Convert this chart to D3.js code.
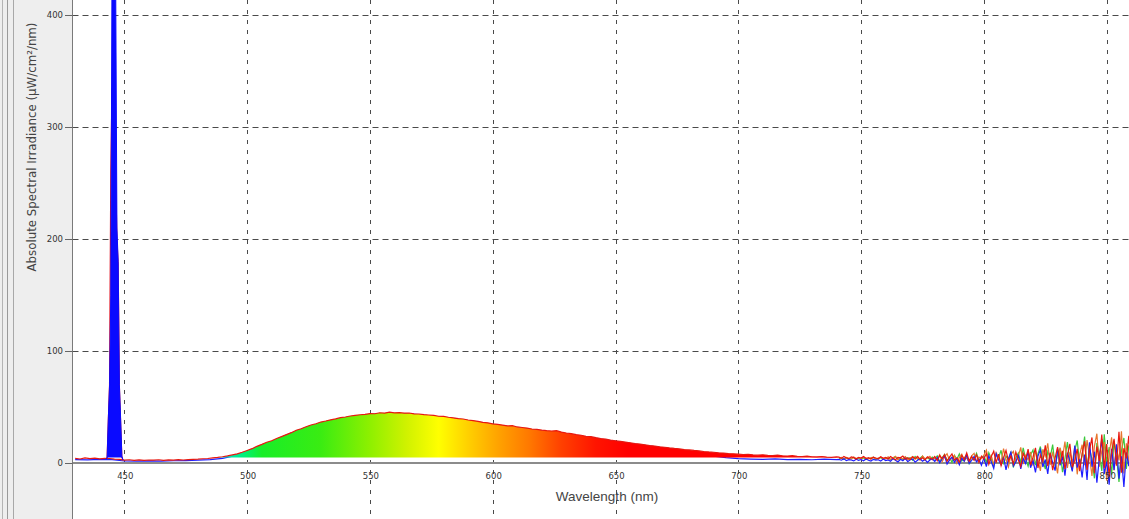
<!DOCTYPE html>
<html>
<head>
<meta charset="utf-8">
<script src="https://cdn.jsdelivr.net/npm/d3@7"></script>
<style>
  html, body { margin: 0; padding: 0; background: #fff; overflow: hidden; }
  svg { display: block; }
  .tick-label { font-family: "DejaVu Sans", sans-serif; font-size: 8.5px; fill: #333; }
  .axis-title { font-family: "DejaVu Sans", sans-serif; font-size: 11.8px; fill: #444; }
  .x-title { font-family: "Liberation Sans", Arial, sans-serif; font-size: 13.5px; fill: #444; }
</style>
</head>
<body>
<script>
// spectrum scan values (uW/cm2/nm)

var xTicks = [450, 500, 550, 600, 650, 700, 750, 800, 850];
var yTicks = [0, 100, 200, 300, 400];

// red scan, 430..740 nm every 2 nm
var spectrumWl = d3.range(430, 741, 2);
var redMain = [
  4.2, 3.6, 4.5, 3.9, 4.3,
  3.7, 4.1, 4.0, 3.5, 3.2,
  2.6, 2.9, 2.4, 2.8, 2.3,
  2.7, 2.5, 2.9, 2.4, 2.8,
  2.6, 3.0, 2.7, 3.1, 3.3,
  3.4, 3.8, 4.0, 4.5, 5.0,
  5.6, 6.3, 7.2, 8.2, 9.6,
  11.2, 12.8, 14.9, 16.6, 18.5,
  19.9, 21.9, 23.6, 25.4, 27.1,
  29.3, 30.6, 32.4, 34.0, 35.1,
  36.6, 37.5, 38.6, 39.4, 40.5,
  41.1, 42.0, 42.6, 43.1, 43.4,
  44.2, 44.0, 44.9, 44.6, 45.4,
  44.8, 45.1, 44.5, 44.7, 43.9,
  43.8, 43.2, 42.9, 42.5, 41.8,
  41.6, 40.9, 40.3, 39.6, 39.3,
  38.4, 37.9, 37.2, 36.3, 35.9,
  35.0, 34.6, 33.9, 33.1, 33.4,
  32.2, 31.7, 31.2, 30.4, 30.0,
  29.3, 28.9, 28.6, 28.9, 27.6,
  26.8, 26.2, 25.3, 24.8, 23.9,
  23.5, 22.6, 21.9, 21.3, 20.4,
  19.9, 19.3, 18.7, 18.1, 17.4,
  16.9, 16.3, 15.6, 15.2, 14.5,
  14.1, 13.5, 13.0, 12.6, 12.0,
  11.7, 11.2, 10.8, 10.3, 9.9,
  9.6, 9.1, 8.9, 8.4, 8.2,
  7.9, 7.6, 7.8, 7.2, 7.0,
  7.3, 6.8, 6.6, 7.0, 6.4,
  6.2, 6.5, 6.0, 5.8, 6.1,
  5.6, 5.4, 5.8, 5.3, 5.1,
  5.4
];

// blue scan, 430..740 nm every 5 nm
var blueWl = d3.range(430, 741, 5);
var blueMain = [
  3.1, 2.8, 3.3, 3.0, 1.8, 1.6, 1.9, 1.7, 2.0, 2.2,
  2.6, 3.0, 4.2, 6.5, 10.0, 15.0, 19.0, 24.0, 28.5, 32.5,
  35.5, 38.0, 40.5, 42.0, 43.5, 44.0, 44.2, 44.0, 43.2, 42.0,
  40.8, 39.5, 38.0, 36.4, 34.6, 33.0, 31.5, 30.0, 28.5, 27.3,
  25.8, 24.2, 22.6, 21.0, 19.3, 17.8, 16.2, 14.8, 13.3, 12.0,
  10.6, 9.0, 6.2, 4.8, 3.9, 3.5, 3.2, 3.6, 3.0, 3.3,
  2.9, 3.4, 3.0
];

// emission line around 445 nm
var peakWl   = [442.5, 443, 443.5, 444, 444.5, 445, 445.5, 446, 446.5, 447, 447.5, 448, 448.5, 449, 449.5];
var peakBlue = [3.5, 4.5, 40, 70, 150, 440, 470, 455, 425, 210, 180, 70, 40, 6, 2.5];
var peakRed  = [3.8, 4.6, 38, 70, 260, 335, 330, 300, 255, 200, 178, 68, 36, 5, 2.6];

// noisy NIR tail, 741..860 nm every 1 nm
var tailWl = d3.range(741, 861);
var redTail = [
  5.2, 4.1, 5.8, 4.6, 3.9, 5.5, 4.8, 3.6, 5.1, 4.4, 5.9, 4.0, 4.7, 3.5, 5.3, 4.5, 3.8, 5.6, 4.2, 4.9,
  3.6, 5.8, 4.3, 2.9, 5.1, 4.6, 6.2, 3.4, 4.8, 3.1, 5.5, 4.0, 6.0, 3.3, 4.7, 2.8, 5.6, 4.1, 3.5, 5.9,
  2.1, 6.8, 3.9, 7.5, 1.5, 5.2, 8.1, 2.7, 4.6, 0.8, 6.9, 3.2, 9.0, 1.9, 5.8, 2.4, 7.3, 0.5, 6.1, 3.6,
  8.4, -1.2, 5.7, 10.5, 0.3, 7.9, -2.4, 4.8, 11.2, 1.6, 6.3, -0.8, 9.7, 2.9, -3.1, 8.8, 3.5, 12.4, -1.9, 5.2,
  13.6, -4.5, 7.1, 1.2, 15.8, -2.9, 9.4, -6.3, 4.6, 14.2, -0.7, 10.8, -5.6, 6.9, 17.1, -3.8, 2.5, 12.6, -7.4, 8.3,
  19.5, -6.2, 11.3, 22.8, -9.1, 14.6, 1.8, 25.4, -4.7, 16.9, -12.3, 9.8, 21.6, -2.5, 27.9, -8.6, 13.2, 4.1, 24.3, -10.8
];
var blueTail = [
  3.2, 2.5, 3.8, 2.1, 3.0, 2.7, 1.9, 3.4, 2.3, 3.1, 2.0, 3.6, 2.4, 1.8, 3.3, 2.6, 2.9, 1.7, 3.5, 2.2,
  2.8, 1.5, 3.9, 2.4, 0.9, 3.3, 2.0, 4.2, 1.2, 2.9, 3.7, 0.8, 2.5, 4.0, 1.6, 3.1, 0.6, 2.7, 3.8, 1.4,
  4.9, 0.2, 3.6, 6.1, -0.9, 2.8, 5.3, 0.7, 3.9, -1.6, 4.4, 1.5, 7.2, -0.4, 2.3, 5.8, 0.9, 3.4, -2.1, 4.7,
  -3.2, 6.5, 1.1, -4.8, 8.3, 2.6, -1.5, 5.4, -6.1, 3.8, 9.6, -2.7, 0.8, 7.4, -5.3, 4.1, -0.6, 10.9, -4.2, 2.2,
  -8.3, 6.2, 11.8, -3.6, 3.1, -9.7, 8.5, 0.4, -6.8, 13.1, -2.2, 5.7, -11.4, 9.2, 1.9, -7.5, 15.6, -4.1, 3.3, -12.8,
  7.6, -15.2, 18.4, -3.4, 10.1, -17.6, 4.5, 21.3, -9.8, 1.2, -19.4, 12.7, -6.3, 16.8, -14.1, 5.9, -21.5, 9.4, -2.8, 14.2
];
var greenTail = [
  3.9, 4.5, 3.2, 4.8, 3.6, 4.2, 5.0, 3.4, 4.1, 3.7, 4.6, 3.0, 4.4, 3.8, 5.2, 3.3, 4.0, 4.7, 3.5, 4.3,
  4.9, 2.8, 4.1, 5.6, 3.2, 4.4, 2.6, 5.3, 3.9, 4.7, 2.4, 5.9, 3.5, 4.2, 6.1, 2.9, 4.6, 3.1, 5.4, 3.7,
  6.3, 1.4, 4.8, 7.6, 2.2, 5.1, 0.6, 6.9, 3.3, 8.2, 1.8, 4.5, 6.6, -0.3, 5.7, 3.0, 8.7, 2.1, 4.9, 6.4,
  0.9, 9.3, 3.7, -2.6, 7.8, 5.0, 11.4, -1.3, 6.2, 2.4, 10.1, -4.0, 4.6, 8.9, 0.2, 13.5, 3.9, -2.8, 7.3, 11.7,
  -1.9, 8.1, 14.7, 2.6, -5.4, 10.3, 5.2, 16.4, -3.0, 7.7, 12.9, -8.2, 4.0, 18.6, 1.5, -6.6, 11.2, 20.1, -1.1, 6.8,
  23.7, -4.9, 12.5, 3.6, -13.7, 17.9, 8.2, -7.1, 25.6, 0.7, 14.3, -10.5, 19.8, 6.0, -16.9, 11.1, 22.4, -5.2, 15.7, 2.9
];
var orangeTail = [
  4.4, 5.1, 3.7, 4.9, 4.2, 3.5, 5.4, 4.0, 4.7, 3.9, 5.2, 4.3, 3.6, 4.8, 5.0, 3.8, 4.5, 5.3, 4.1, 3.7,
  5.5, 3.2, 4.6, 6.0, 2.9, 4.9, 3.6, 5.7, 2.7, 4.3, 5.8, 3.4, 4.8, 2.5, 6.2, 3.9, 4.4, 5.9, 2.8, 4.6,
  3.0, 7.4, 1.2, 5.6, 8.3, 2.5, 4.1, 6.8, -0.2, 5.0, 7.9, 2.0, 4.7, 0.4, 6.4, 8.6, 1.6, 5.3, 3.8, 7.0,
  11.6, 1.9, 6.8, -1.7, 9.2, 4.3, 0.6, 12.8, 3.1, -3.5, 7.5, 10.4, 1.0, 5.9, 13.9, -0.9, 6.6, 2.7, 9.8, -2.3,
  10.7, 3.4, -7.0, 12.3, 6.1, 17.6, -1.6, 8.8, 2.1, -9.3, 13.8, 4.9, 19.2, -4.4, 9.6, 0.3, 14.5, -10.1, 7.2, 16.3,
  -2.0, 20.5, 5.8, -11.6, 15.1, 26.2, -3.3, 10.9, 18.7, -15.8, 7.4, 23.0, -6.7, 13.6, 2.3, 28.4, -9.4, 17.5, 0.8, 20.9
];

// colours of the visible spectrum used for the fill
var gradientWl     = [430, 470, 482, 490, 498, 506, 530, 550, 565, 578, 590, 603, 615, 628, 642, 655, 740];
var gradientColors = ["#0000ff", "#0040ff", "#00a0ff", "#00e0d0", "#00f080", "#18ee28", "#3aec12", "#8ef000",
                      "#d0f200", "#ffff00", "#ffd000", "#ffa000", "#ff7800", "#ff4000", "#ff1400", "#ff0000", "#ff0000"];

// -----------------------------------------------------------------------------

var width = 1129,
    height = 519,
    plotLeft = 72.5,
    fillFloor = 5;

var xScale = d3.scaleLinear().domain([450, 850]).range([124.3, 1106.7]);
var yScale = d3.scaleLinear().domain([0, 400]).range([463, 15.4]);

var svg = d3.select("body").append("svg")
    .attr("width", width)
    .attr("height", height);

var defs = svg.append("defs");

defs.append("clipPath")
    .attr("id", "plot-clip")
  .append("rect")
    .attr("x", plotLeft)
    .attr("y", 0)
    .attr("width", width - plotLeft)
    .attr("height", height);

var grad = defs.append("linearGradient")
    .attr("id", "spectrum")
    .attr("gradientUnits", "userSpaceOnUse")
    .attr("x1", xScale(430)).attr("x2", xScale(740))
    .attr("y1", 0).attr("y2", 0);

grad.selectAll("stop")
    .data(gradientWl)
    .enter()
    .append("stop")
    .attr("offset", function(d) { return (d - 430) / (740 - 430); })
    .attr("stop-color", function(d, i) { return gradientColors[i]; });

// left side panel
svg.append("rect")
    .attr("x", 0).attr("y", 0)
    .attr("width", plotLeft).attr("height", height)
    .attr("fill", "#eeeeee");

[[2.5, "#b4b4b4"], [7.5, "#9a9a9a"], [13.5, "#a8a8a8"]].forEach(function(l) {
  svg.append("line")
      .attr("x1", l[0]).attr("x2", l[0])
      .attr("y1", 0).attr("y2", height)
      .attr("stroke", l[1]);
});

var plot = svg.append("g").attr("clip-path", "url(#plot-clip)");

// grid
plot.selectAll(".vgrid")
    .data(xTicks)
    .enter()
    .append("line")
    .attr("x1", function(d) { return Math.round(xScale(d)) + 0.5; })
    .attr("x2", function(d) { return Math.round(xScale(d)) + 0.5; })
    .attr("y1", 0)
    .attr("y2", height)
    .attr("stroke", "#4a4a4a")
    .attr("stroke-dasharray", "4,6");

plot.selectAll(".hgrid")
    .data(yTicks.filter(function(d) { return d > 0; }))
    .enter()
    .append("line")
    .attr("x1", plotLeft)
    .attr("x2", width)
    .attr("y1", function(d) { return Math.round(yScale(d)) + 0.5; })
    .attr("y2", function(d) { return Math.round(yScale(d)) + 0.5; })
    .attr("stroke", "#4a4a4a")
    .attr("stroke-dasharray", "6,4");

// x axis line
plot.append("line")
    .attr("x1", plotLeft).attr("x2", width)
    .attr("y1", yScale(0)).attr("y2", yScale(0))
    .attr("stroke", "#8c8c8c")
    .attr("stroke-width", 2);

function toPoints(wls, vals) {
  return wls.map(function(w, i) { return { wl: w, v: vals[i] }; });
}

var line = d3.line()
    .x(function(d) { return xScale(d.wl); })
    .y(function(d) { return yScale(d.v); });

var area = d3.area()
    .x(function(d) { return xScale(d.wl); })
    .y0(yScale(fillFloor))
    .y1(function(d) { return yScale(Math.max(d.v, fillFloor)); });

var redPoints = toPoints(spectrumWl, redMain).concat(toPoints(tailWl, redTail));
var bluePoints = toPoints(blueWl, blueMain).concat(toPoints(tailWl, blueTail));

// scans underneath the fill
plot.append("path")
    .attr("d", line(toPoints(tailWl, greenTail)))
    .attr("fill", "none")
    .attr("stroke", "#3cc83c")
    .attr("stroke-width", 1.2);

plot.append("path")
    .attr("d", line(toPoints(tailWl, orangeTail)))
    .attr("fill", "none")
    .attr("stroke", "#e8772e")
    .attr("stroke-width", 1.2);

plot.append("path")
    .attr("d", line(bluePoints))
    .attr("fill", "none")
    .attr("stroke", "#1e1eff")
    .attr("stroke-width", 1.2);

// spectral colour fill
plot.append("path")
    .attr("d", area(toPoints(spectrumWl, redMain)))
    .attr("fill", "url(#spectrum)");

plot.append("path")
    .attr("d", line(redPoints))
    .attr("fill", "none")
    .attr("stroke", "#e8180f")
    .attr("stroke-width", 1.2);

// emission peak
plot.append("path")
    .attr("d", line(toPoints(peakWl, peakRed)))
    .attr("fill", "none")
    .attr("stroke", "#e01020")
    .attr("stroke-width", 1.2);

plot.append("path")
    .attr("d", area(toPoints(peakWl, peakBlue)))
    .attr("fill", "#0a0aff");

plot.append("path")
    .attr("d", line(toPoints(peakWl, peakBlue)))
    .attr("fill", "none")
    .attr("stroke", "#0a0aff")
    .attr("stroke-width", 1);

// y axis
svg.append("line")
    .attr("x1", plotLeft).attr("x2", plotLeft)
    .attr("y1", 0).attr("y2", height)
    .attr("stroke", "#7a7a7a");

svg.selectAll(".ytick")
    .data(yTicks)
    .enter()
    .append("line")
    .attr("x1", 65).attr("x2", plotLeft)
    .attr("y1", function(d) { return Math.round(yScale(d)) + 0.5; })
    .attr("y2", function(d) { return Math.round(yScale(d)) + 0.5; })
    .attr("stroke", "#666");

svg.selectAll(".ylabel")
    .data(yTicks)
    .enter()
    .append("text")
    .attr("class", "tick-label")
    .attr("x", 63)
    .attr("y", function(d) { return yScale(d); })
    .attr("dy", "0.35em")
    .attr("text-anchor", "end")
    .text(function(d) { return d; });

svg.selectAll(".xlabel")
    .data(xTicks)
    .enter()
    .append("text")
    .attr("class", "tick-label")
    .attr("x", function(d) { return xScale(d) + 1; })
    .attr("y", 479)
    .attr("text-anchor", "middle")
    .text(function(d) { return d; });

svg.append("text")
    .attr("class", "axis-title")
    .attr("transform", "translate(36,147) rotate(-90)")
    .attr("text-anchor", "middle")
    .text("Absolute Spectral Irradiance (\u00b5W/cm\u00b2/nm)");

svg.append("text")
    .attr("class", "x-title")
    .attr("x", 607)
    .attr("y", 501)
    .attr("text-anchor", "middle")
    .text("Wavelength (nm)");
</script>
</body>
</html>
